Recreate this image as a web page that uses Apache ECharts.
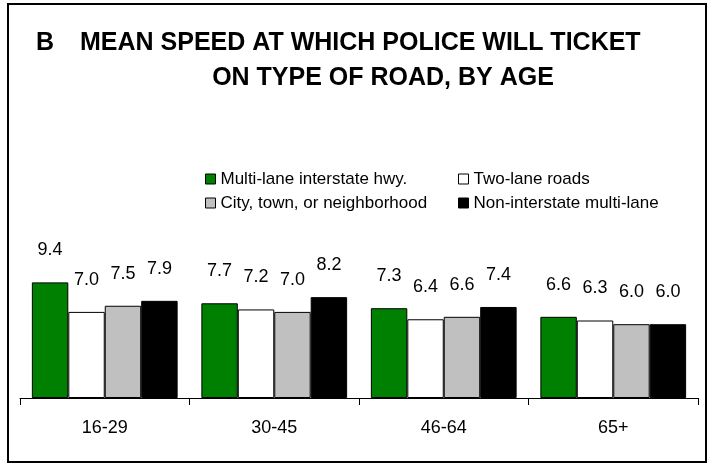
<!DOCTYPE html>
<html>
<head>
<meta charset="utf-8">
<script src="https://cdn.jsdelivr.net/npm/echarts@6/dist/echarts.min.js"></script>
<style>
    html, body { margin: 0; padding: 0; background: #fff; }
    #chart { width: 712px; height: 466px; }
</style>
</head>
<body>
<div id="chart"></div>
<script>
// data
const ageGroups = ['16-29', '30-45', '46-64', '65+'];
const seriesNames = ['Multi-lane interstate hwy.', 'Two-lane roads', 'City, town, or neighborhood', 'Non-interstate multi-lane'];
const multiLane = [9.4, 7.7, 7.3, 6.6];
const twoLane = [7.0, 7.2, 6.4, 6.3];
const cityTown = [7.5, 7.0, 6.6, 6.0];
const nonInterstate = [7.9, 8.2, 7.4, 6.0];
const barColors = ['#008000', '#ffffff', '#c0c0c0', '#000000'];

const FONT = "'Liberation Sans', Arial, sans-serif";

document.addEventListener('DOMContentLoaded', function() {
    const chart = echarts.init(document.getElementById('chart'));
    const values = [multiLane, twoLane, cityTown, nonInterstate];

    const series = seriesNames.map(function(name, i) {
        return {
            name: name,
            type: 'bar',
            data: values[i],
            barGap: '0%',
            barCategoryGap: '14%',
            itemStyle: {
                color: barColors[i],
                borderColor: '#000',
                borderWidth: 1
            },
            label: {
                show: true,
                position: 'top',
                distance: 23,
                color: '#000',
                fontFamily: FONT,
                fontSize: 18,
                formatter: function(p) { return p.value.toFixed(1); }
            }
        };
    });

    const legendText = { color: '#000', fontFamily: FONT, fontSize: 17, lineHeight: 20 };

    const option = {
        animation: false,
        backgroundColor: '#fff',
        graphic: [
            {
                type: 'rect',
                shape: { x: 8, y: 4, width: 698, height: 458 },
                style: { fill: 'none', stroke: '#000', lineWidth: 2 },
                z: 10
            },
            {
                type: 'text', left: 36, top: 31,
                style: { text: 'B', font: 'bold 25px ' + FONT, fill: '#000' }
            },
            {
                type: 'text', left: 80, top: 31,
                style: { text: 'MEAN SPEED AT WHICH POLICE WILL TICKET', font: 'bold 25px ' + FONT, fill: '#000', textAlign: 'left' }
            },
            {
                type: 'text', x: 383, y: 66,
                style: { text: 'ON TYPE OF ROAD, BY AGE', font: 'bold 25px ' + FONT, fill: '#000', textAlign: 'center' }
            }
        ],
        legend: [
            {
                data: [seriesNames[0], seriesNames[2]],
                orient: 'vertical',
                left: 200,
                top: 164,
                icon: 'rect',
                itemWidth: 10,
                itemHeight: 10,
                itemGap: 4,
                textStyle: legendText,
                itemStyle: { borderColor: '#000', borderWidth: 1 }
            },
            {
                data: [seriesNames[1], seriesNames[3]],
                orient: 'vertical',
                left: 453,
                top: 164,
                icon: 'rect',
                itemWidth: 10,
                itemHeight: 10,
                itemGap: 4,
                textStyle: legendText,
                itemStyle: { borderColor: '#000', borderWidth: 1 }
            }
        ],
        grid: {
            left: 20,
            right: 14,
            top: 275,
            bottom: 68
        },
        xAxis: {
            type: 'category',
            data: ageGroups,
            axisLine: { lineStyle: { color: '#000', width: 1 } },
            axisTick: { show: true, length: 7, lineStyle: { color: '#000' } },
            axisLabel: { color: '#000', fontFamily: FONT, fontSize: 18, margin: 21 }
        },
        yAxis: {
            type: 'value',
            min: 0,
            max: 10,
            show: false,
            splitLine: { show: false }
        },
        series: series
    };
    chart.setOption(option);
});
</script>
</body>
</html>
